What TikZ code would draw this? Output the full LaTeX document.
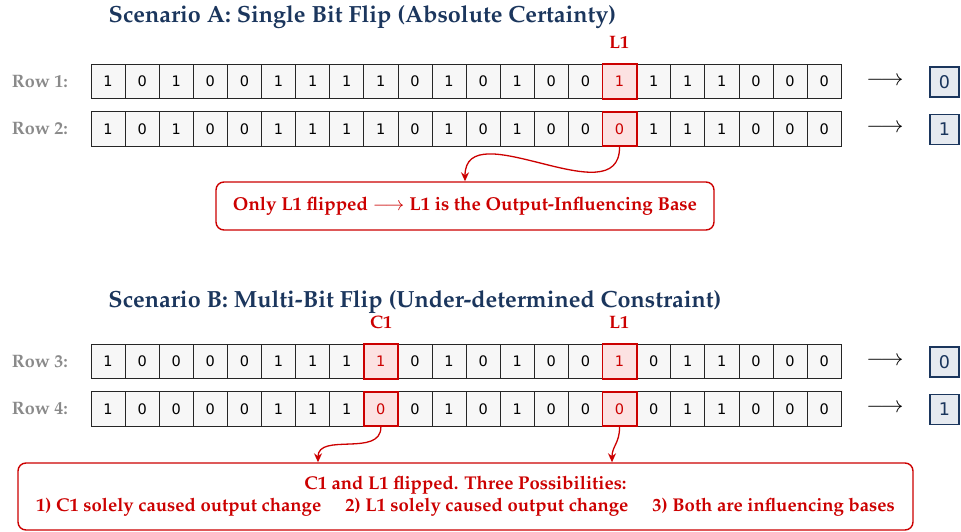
\documentclass[tikz,border=0pt]{standalone}
\usepackage{fontspec}
\newfontfamily\digitfont{DejaVu Sans}
\usepackage[T1]{fontenc}
\usepackage{mathpazo}
\usetikzlibrary{arrows.meta}
\definecolor{navy}{HTML}{1B365D}
\definecolor{hired}{HTML}{CC0000}
\definecolor{cellfill}{HTML}{F7F7F7}
\definecolor{hifill}{HTML}{FCE2E2}
\definecolor{outfill}{HTML}{E6EAF0}
\definecolor{rowgray}{HTML}{8A8A8A}
\newcommand\bitrow[5]{%
  \foreach \b [count=\i] in {#3}{%
    \ifnum\i=#4\relax\else\ifnum\i=#5\relax\else
      \node[cell] (#1c\i) at ({91+34.1*(\i-0.5)},#2) {\b};
    \fi\fi}%
}
\begin{document}
\begin{tikzpicture}[x=1pt,y=-1pt,
  cell/.style={draw=black!85, fill=cellfill, line width=0.7pt, minimum width=34.1pt, minimum height=34.6pt, inner sep=0pt, font=\digitfont\fontsize{14.5}{16}\selectfont},
  hicell/.style={cell, draw=hired, fill=hifill, line width=1.8pt, text=hired},
  title/.style={font=\bfseries\fontsize{23.4}{28}\selectfont, text=navy, inner sep=0pt},
  rowlab/.style={font=\bfseries\fontsize{18}{21}\selectfont, text=rowgray, anchor=east, inner sep=0pt},
  redlab/.style={font=\bfseries\fontsize{18}{21}\selectfont, text=hired, inner sep=0pt},
  outarrow/.style={font=\fontsize{22}{24}\selectfont, inner sep=0pt},
  outbox/.style={draw=navy, fill=outfill, line width=1.4pt, minimum width=29pt, minimum height=30pt, inner sep=0pt, text=navy, font=\digitfont\fontsize{17.5}{19}\selectfont},
  callout/.style={draw=hired, line width=1.4pt, rounded corners=8pt, fill=white, text=hired, font=\bfseries\fontsize{18.7}{22}\selectfont, inner sep=0pt},
  conn/.style={draw=hired, line width=1.3pt, -{Stealth[length=9pt,width=8pt]}}
]
\useasboundingbox (0,0) rectangle (961,532);

% ---------- Scenario A ----------
\node[title] (tA) at (362.5,17) {Scenario A: Single Bit Flip (Absolute Certainty)};
\node[rowlab] (l1) at (68,81.5) {Row 1:};
\node[rowlab] (l2) at (68,129) {Row 2:};
\bitrow{r1}{81.5}{1,0,1,0,0,1,1,1,1,0,1,0,1,0,0,1,1,1,1,0,0,0}{16}{16}
\bitrow{r2}{129}{1,0,1,0,0,1,1,1,1,0,1,0,1,0,0,0,1,1,1,0,0,0}{16}{16}
\node[hicell] (r1c16) at ({91+34.1*15.5},81.5) {1};
\node[hicell] (r2c16) at ({91+34.1*15.5},129) {0};
\node[redlab] (LA) at (619,43) {L1};
\node[outarrow] (a1) at (885,81) {$\longrightarrow$};
\node[outarrow] (a2) at (885,128.5) {$\longrightarrow$};
\node[outbox] (o1) at (944.5,82) {0};
\node[outbox] (o2) at (944.5,129.5) {1};
\node[callout, minimum width=498pt, minimum height=48pt] (cA) at (465,206)
  {Only L1 flipped $\longrightarrow$ L1 is the Output-Influencing Base};
\draw[conn] (r2c16.south) .. controls +(0,70) and +(0,-70) .. (cA.north);

% ---------- Scenario B ----------
\node[title] (tB) at (415,302) {Scenario B: Multi-Bit Flip (Under-determined Constraint)};
\node[rowlab] (l3) at (68,361.5) {Row 3:};
\node[rowlab] (l4) at (68,409) {Row 4:};
\bitrow{r3}{361.5}{1,0,0,0,0,1,1,1,1,0,1,0,1,0,0,1,0,1,1,0,0,0}{9}{16}
\bitrow{r4}{409}{1,0,0,0,0,1,1,1,0,0,1,0,1,0,0,0,0,1,1,0,0,0}{9}{16}
\node[hicell] (r3c9) at ({91+34.1*8.5},361.5) {1};
\node[hicell] (r4c9) at ({91+34.1*8.5},409) {0};
\node[hicell] (r3c16) at ({91+34.1*15.5},361.5) {1};
\node[hicell] (r4c16) at ({91+34.1*15.5},409) {0};
\node[redlab] (CB) at (381,322.5) {C1};
\node[redlab] (LB) at (619,322.5) {L1};
\node[outarrow] (a3) at (885,361) {$\longrightarrow$};
\node[outarrow] (a4) at (885,408.5) {$\longrightarrow$};
\node[outbox] (o3) at (944.5,362) {0};
\node[outbox] (o4) at (944.5,409.5) {1};
\node[callout, minimum width=895pt, minimum height=67pt, align=center, font=\bfseries\fontsize{18.5}{22}\selectfont] (cB) at (465.5,496.5)
  {C1 and L1 flipped. Three Possibilities:\\
   1) C1 solely caused output change\hspace{24pt}2) L1 solely caused output change\hspace{24pt}3) Both are influencing bases};
\draw[conn] (r4c9.south) .. controls +(0,30) and +(0,-30) .. ([xshift=-147.5pt]cB.north);
\draw[conn] (r4c16.south) .. controls +(0,16) and +(0,-16) .. ([xshift=146.5pt]cB.north);
\end{tikzpicture}
\end{document}
